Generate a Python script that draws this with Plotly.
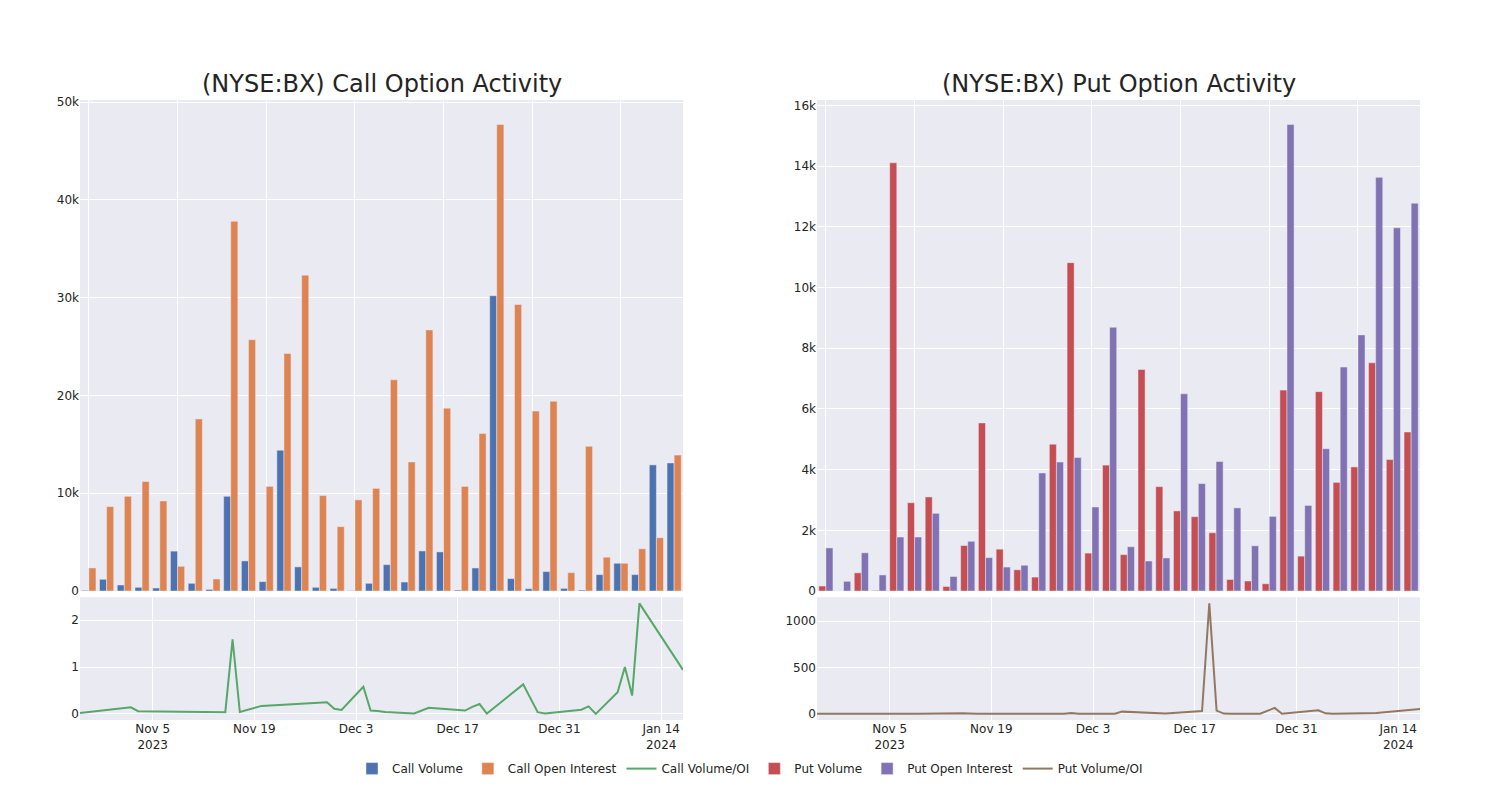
import plotly.graph_objects as go
from plotly.subplots import make_subplots

dates = ["2023-10-26", "2023-11-02", "2023-11-03", "2023-11-09", "2023-11-15", "2023-11-16",
         "2023-11-17", "2023-11-20", "2023-11-29", "2023-11-30", "2023-12-01", "2023-12-04",
         "2023-12-05", "2023-12-06", "2023-12-07", "2023-12-11", "2023-12-12", "2023-12-13",
         "2023-12-18", "2023-12-19", "2023-12-20", "2023-12-21", "2023-12-22", "2023-12-26",
         "2023-12-28", "2023-12-29", "2024-01-03", "2024-01-04", "2024-01-05", "2024-01-08",
         "2024-01-09", "2024-01-10", "2024-01-11", "2024-01-17"]

call_volume = [70, 1200, 620, 380, 310, 4080, 790, 170, 9690, 3080,
               960, 14400, 2470, 380, 270, 30, 790, 2700, 920, 4100,
               4000, 100, 2360, 30200, 1270, 240, 1990, 270, 100, 1680,
               2840, 1680, 12900, 13100]
call_oi = [2360, 8630, 9690, 11200, 9210, 2530, 17600, 1230, 37800, 25700,
           10700, 24300, 32300, 9760, 6580, 9320, 10500, 21600, 13200, 26700,
           18700, 10700, 16100, 47700, 29300, 18400, 19400, 1880, 14800, 3460,
           2840, 4320, 5450, 13900]
call_ratio = [0.02, 0.14, 0.057, 0.046, 0.036, 1.59, 0.04, 0.17, 0.25, 0.11,
              0.085, 0.58, 0.07, 0.06, 0.04, 0.007, 0.07, 0.13, 0.07, 0.15,
              0.21, 0.007, 0.13, 0.63, 0.036, 0.007, 0.09, 0.16, 0.0, 0.46,
              1.0, 0.39, 2.36, 0.94]

put_volume = [165, 0, 600, 20, 14110, 2910, 3100, 150, 1500, 5540,
              1380, 700, 460, 4840, 10820, 1250, 4150, 1200, 7300, 3440,
              2640, 2450, 1920, 380, 330, 240, 6620, 1150, 6570, 3580,
              4090, 7520, 4330, 5240]
put_oi = [1420, 320, 1260, 530, 1780, 1780, 2560, 480, 1640, 1100,
          790, 850, 3890, 4250, 4400, 2770, 8690, 1460, 990, 1090,
          6500, 3540, 4270, 2740, 1490, 2460, 15370, 2820, 4690, 7380,
          8440, 13630, 11970, 12780]
put_ratio = [2, 1, 1, 1, 8, 2, 1, 1, 1, 10,
             2, 1, 1, 3, 25, 11, 7, 4, 32, 1190,
             36, 4, 3, 3, 65, 3, 40, 7, 2, 2,
             2, 3, 10, 54]

titles = ["(NYSE:BX) Call Option Activity", "(NYSE:BX) Put Option Activity"]

fig = make_subplots(rows=2, cols=2, row_heights=[0.8, 0.2], vertical_spacing=0.01,
                    horizontal_spacing=0.1, subplot_titles=[titles[0], titles[1], "", ""])

fig.add_trace(go.Bar(x=dates, y=call_volume, name="Call Volume"), row=1, col=1)
fig.add_trace(go.Bar(x=dates, y=call_oi, name="Call Open Interest"), row=1, col=1)
fig.add_trace(go.Scatter(x=dates, y=call_ratio, mode="lines", name="Call Volume/OI"), row=2, col=1)
fig.add_trace(go.Bar(x=dates, y=put_volume, name="Put Volume"), row=1, col=2)
fig.add_trace(go.Bar(x=dates, y=put_oi, name="Put Open Interest"), row=1, col=2)
fig.add_trace(go.Scatter(x=dates, y=put_ratio, mode="lines", name="Put Volume/OI"), row=2, col=2)

tickcats = [dates[i] for i in range(0, len(dates), 5)]
for c in (1, 2):
    fig.update_xaxes(type="category", tickmode="array", tickvals=tickcats,
                     showticklabels=False, row=1, col=c)
    fig.update_xaxes(type="date", row=2, col=c)

for a in fig.layout.annotations:
    a.font.size = 24

fig.update_layout(
    template="seaborn",
    font=dict(family="DejaVu Sans"),
    width=1500, height=800,
    margin=dict(l=72, r=88, t=92, b=88),
    barmode="group",
    legend=dict(orientation="h", x=0.5, xanchor="center", y=-0.055, yanchor="top"),
)

fig.write_html("out.html")
